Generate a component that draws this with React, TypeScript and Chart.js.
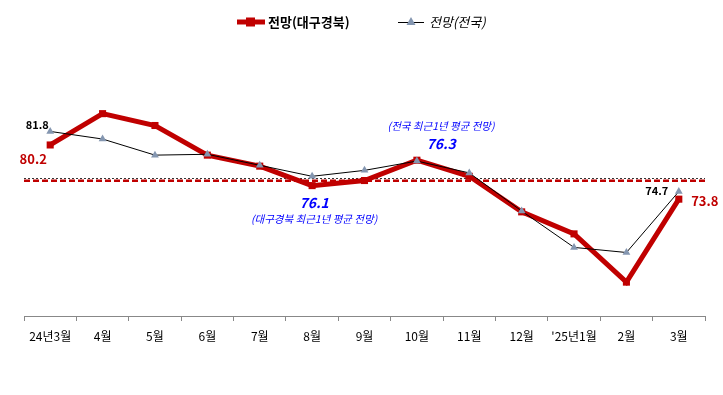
import React, { useEffect, useRef } from "react";
import { Chart, registerables } from "chart.js";

Chart.register(...registerables);

const categories = ["24년3월", "4월", "5월", "6월", "7월", "8월", "9월", "10월", "11월", "12월", "'25년1월", "2월", "3월"];
const daeguValues = [80.2, 83.9, 82.5, 79.0, 77.7, 75.4, 76.0, 78.4, 76.5, 72.3, 69.7, 64.0, 73.8];
const nationValues = [81.8, 80.9, 79.0, 79.1, 77.8, 76.5, 77.2, 78.3, 76.9, 72.4, 68.1, 67.5, 74.7];
const seriesNames = ["전망(대구경북)", "전망(전국)"];
const nationAvg = 76.3;
const daeguAvg = 76.1;
const nationAvgLabel = "(전국 최근1년 평균 전망)";
const daeguAvgLabel = "(대구경북 최근1년 평균 전망)";

const FONT = "'Noto Sans CJK KR', 'Noto Sans', sans-serif";
const RED = "#C00000";
const TRI = "#8496B0";

export default function App() {
  const ref = useRef<HTMLCanvasElement | null>(null);

  useEffect(() => {
    document.body.style.margin = "0";
    const canvas = ref.current!;
    const overlay = {
      id: "overlay",
      beforeDatasetsDraw(chart: any) {
        const { ctx, chartArea, scales } = chart;
        const y = scales.y;
        ctx.save();
        const yd = y.getPixelForValue(daeguAvg) + 1;
        // daegu avg dashed
        ctx.strokeStyle = RED;
        ctx.lineWidth = 2.5;
        ctx.setLineDash([6, 3]);
        ctx.beginPath();
        ctx.moveTo(chartArea.left, yd);
        ctx.lineTo(chartArea.right, yd);
        ctx.stroke();
        // national avg dotted
        ctx.strokeStyle = "#333333";
        ctx.lineWidth = 1;
        ctx.setLineDash([2, 2]);
        ctx.beginPath();
        const yn = Math.min(Math.round(y.getPixelForValue(nationAvg)) + 0.5, Math.round(yd - 1.5) + 0.5);
        ctx.moveTo(chartArea.left, yn);
        ctx.lineTo(chartArea.right, yn);
        ctx.stroke();
        ctx.restore();
      },
      afterDraw(chart: any) {
        const { ctx, scales } = chart;
        const x = scales.x;
        const y = scales.y;
        ctx.save();
        ctx.textAlign = "center";
        ctx.textBaseline = "middle";
        const last = categories.length - 1;
        // point labels
        ctx.fillStyle = RED;
        ctx.font = `bold 13px ${FONT}`;
        ctx.fillText(daeguValues[0].toFixed(1), x.getPixelForValue(0) - 17, y.getPixelForValue(daeguValues[0]) + 14);
        ctx.fillText(daeguValues[last].toFixed(1), x.getPixelForValue(last) + 26, y.getPixelForValue(daeguValues[last]) + 2);
        ctx.fillStyle = "#000";
        ctx.font = `bold 11px ${FONT}`;
        ctx.fillText(nationValues[0].toFixed(1), x.getPixelForValue(0) - 13, y.getPixelForValue(nationValues[0]) - 7);
        ctx.fillText(nationValues[last].toFixed(1), x.getPixelForValue(last) - 22, y.getPixelForValue(nationValues[last]) - 1);
        // avg annotations
        ctx.fillStyle = "#0000FF";
        ctx.font = `italic bold 14px ${FONT}`;
        const xn = (x.getPixelForValue(7) + x.getPixelForValue(8)) / 2 - 2;
        ctx.fillText(nationAvg.toFixed(1), xn, y.getPixelForValue(nationAvg) - 34);
        ctx.font = `italic 10.5px ${FONT}`;
        ctx.fillText(nationAvgLabel, xn, y.getPixelForValue(nationAvg) - 52);
        const xd = x.getPixelForValue(5) + 2;
        ctx.font = `italic bold 14px ${FONT}`;
        ctx.fillText(daeguAvg.toFixed(1), xd, y.getPixelForValue(daeguAvg) + 23);
        ctx.font = `italic 10.5px ${FONT}`;
        ctx.fillText(daeguAvgLabel, xd, y.getPixelForValue(daeguAvg) + 39);

        // legend
        const ly = 22;
        ctx.strokeStyle = RED;
        ctx.lineWidth = 5;
        ctx.setLineDash([]);
        ctx.beginPath();
        ctx.moveTo(237, ly);
        ctx.lineTo(265, ly);
        ctx.stroke();
        ctx.fillStyle = RED;
        ctx.fillRect(246, ly - 4.5, 9, 9);
        ctx.textAlign = "left";
        ctx.fillStyle = "#000";
        ctx.font = `bold 13px ${FONT}`;
        ctx.fillText(seriesNames[0], 268, ly);
        ctx.strokeStyle = "#000";
        ctx.lineWidth = 1;
        ctx.beginPath();
        ctx.moveTo(398, ly + 0.5);
        ctx.lineTo(424, ly + 0.5);
        ctx.stroke();
        ctx.fillStyle = TRI;
        ctx.beginPath();
        ctx.moveTo(411, ly - 5);
        ctx.lineTo(415.5, ly + 3);
        ctx.lineTo(406.5, ly + 3);
        ctx.closePath();
        ctx.fill();
        ctx.fillStyle = "#000";
        ctx.font = `italic 13px ${FONT}`;
        ctx.fillText(seriesNames[1], 429, ly);
        ctx.restore();
      },
    };

    const chart = new Chart(canvas, {
      type: "line",
      data: {
        labels: categories,
        datasets: [
          {
            label: seriesNames[0],
            data: daeguValues,
            borderColor: RED,
            backgroundColor: RED,
            borderWidth: 5,
            pointStyle: "rect",
            pointRadius: 5,
            pointBorderWidth: 0,
            tension: 0,
            order: 2,
          },
          {
            label: seriesNames[1],
            data: nationValues,
            borderColor: "#000000",
            backgroundColor: TRI,
            borderWidth: 1,
            pointStyle: "triangle",
            pointRadius: 4.5,
            pointBorderWidth: 0,
            tension: 0,
            order: 1,
          },
        ],
      },
      options: {
        animation: false,
        responsive: false,
        maintainAspectRatio: false,
        layout: { padding: { left: 24, right: 18, top: 62, bottom: 0 } },
        plugins: { legend: { display: false }, tooltip: { enabled: false } },
        scales: {
          x: {
            offset: true,
            grid: {
              offset: true,
              drawOnChartArea: false,
              drawTicks: true,
              tickLength: 5,
              color: "#888888",
            },
            border: { display: true, color: "#888888", width: 1 },
            ticks: {
              color: "#000",
              font: { family: FONT, size: 12 },
              padding: 8,
              maxRotation: 0,
              autoSkip: false,
            },
            afterFit(scale: any) {
              scale.height = 79;
            },
          },
          y: {
            display: false,
            min: 60,
            max: 90,
          },
        },
      },
      plugins: [overlay],
    });
    return () => chart.destroy();
  }, []);

  return (
    <div style={{ position: "fixed", left: 0, top: 0, width: 723, height: 395, background: "#fff" }}>
      <canvas ref={ref} width={723} height={395} style={{ width: 723, height: 395 }} />
    </div>
  );
}
